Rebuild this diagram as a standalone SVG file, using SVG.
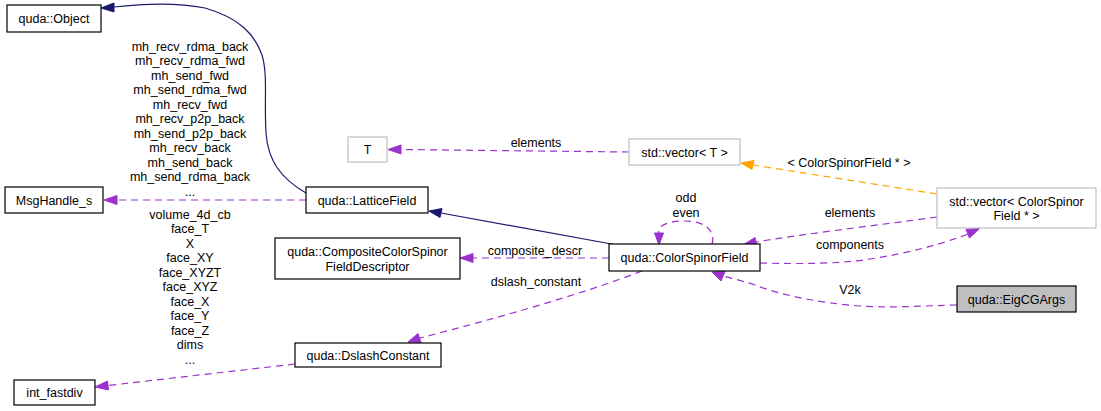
<svg xmlns="http://www.w3.org/2000/svg" width="1101" height="411" viewBox="0 0 1101 411">
<style>
text{font-family:"Liberation Sans",Arial,sans-serif;font-size:12.5px;fill:#000;text-anchor:middle}
.n{fill:#fff;stroke:#000;stroke-width:1.2}
.g{fill:#fff;stroke:#bfbfbf;stroke-width:1.2}
.h{fill:#bfbfbf;stroke:#000;stroke-width:1.2}
.e{fill:none;stroke-width:1.2}
.p{stroke:#9a32cd;stroke-dasharray:7,5}
.b{stroke:#191970}
.o{stroke:#ffa500;stroke-dasharray:7,5}
.ap{fill:#9a32cd;stroke:#9a32cd}
.ab{fill:#191970;stroke:#191970}
.ao{fill:#ffa500;stroke:#ffa500}
</style>
<rect width="1101" height="411" fill="#fff"/>
<g id="connectors">
<path class="e b" d="M306,193 C280,178 268,160 266,133 C264,100 268,75 262,55 C255,35 240,18 205,8 C175,2 140,4 114,7"/>
<polygon class="ab" points="114,3 101,8 114,12"/>
<path class="e b" d="M617,245 L441,213"/>
<polygon class="ab" points="442,208.5 429,211 440,217.5"/>
<path class="e p" d="M306,200 L117,200"/>
<polygon class="ap" points="117,195.5 104,200 117,204.5"/>
<text x="190" y="50.5">mh_recv_rdma_back<tspan x="190" dy="14.5">mh_recv_rdma_fwd</tspan><tspan x="190" dy="14.5">mh_send_fwd</tspan><tspan x="190" dy="14.5">mh_send_rdma_fwd</tspan><tspan x="190" dy="14.5">mh_recv_fwd</tspan><tspan x="190" dy="14.5">mh_recv_p2p_back</tspan><tspan x="190" dy="14.5">mh_send_p2p_back</tspan><tspan x="190" dy="14.5">mh_recv_back</tspan><tspan x="190" dy="14.5">mh_send_back</tspan><tspan x="190" dy="14.5">mh_send_rdma_back</tspan><tspan x="190" dy="14.5">...</tspan></text>
<path class="e p" d="M629,152 L401,149.5"/>
<polygon class="ap" points="401,145 388,149.5 401,154"/>
<text x="536" y="147">elements</text>
<path class="e o" d="M937,194 L753,165"/>
<polygon class="ao" points="754,160.5 741,163 752,169.5"/>
<text x="849" y="167">&lt; ColorSpinorField * &gt;</text>
<path class="e p" d="M937,217 C880,225 810,233 756,242"/>
<polygon class="ap" points="755,237.5 743,245 757,246.5"/>
<text x="850" y="217">elements</text>
<path class="e p" d="M760,263 C800,264 840,264 870,259 C910,253 945,243 968,234"/>
<polygon class="ap" points="966,229.5 980,228 969.5,238"/>
<text x="850" y="249">components</text>
<path class="e p" d="M957,305 C920,306 890,308 860,306 C820,303 780,295 755,285 C740,280 730,278 723,276"/>
<polygon class="ap" points="725,271.5 712,272 721,281"/>
<text x="850" y="294">V2k</text>
<path class="e p" d="M712,244 C716,231 705,221 685,221 C667,221 657,226 659,233"/>
<polygon class="ap" points="654.5,233 659,245 663.5,233"/>
<text x="686" y="202">odd</text>
<text x="686" y="217">even</text>
<path class="e p" d="M609,258 L473,258"/>
<polygon class="ap" points="473,253.5 460,258 473,262.5"/>
<text x="535" y="255">composite_descr</text>
<path class="e p" d="M642,271 C580,295 490,320 420,338"/>
<polygon class="ap" points="418,333.5 408,342 421,342.5"/>
<text x="536" y="286">dslash_constant</text>
<path class="e p" d="M295,364 L108,385.5"/>
<polygon class="ap" points="107.5,381 95,387 108.5,390"/>
<text x="190" y="218.5">volume_4d_cb<tspan x="190" dy="14.5">face_T</tspan><tspan x="190" dy="14.5">X</tspan><tspan x="190" dy="14.5">face_XY</tspan><tspan x="190" dy="14.5">face_XYZT</tspan><tspan x="190" dy="14.5">face_XYZ</tspan><tspan x="190" dy="14.5">face_X</tspan><tspan x="190" dy="14.5">face_Y</tspan><tspan x="190" dy="14.5">face_Z</tspan><tspan x="190" dy="14.5">dims</tspan><tspan x="190" dy="14.5">...</tspan></text>
</g>
<g id="node-object"><rect class="n" x="7" y="5" width="94" height="27"/><text x="54" y="23">quda::Object</text></g>
<g id="node-msghandle"><rect class="n" x="5" y="187" width="98" height="26"/><text x="54" y="204.5">MsgHandle_s</text></g>
<g id="node-latticefield"><rect class="n" x="306" y="187" width="122" height="26"/><text x="367" y="204.5">quda::LatticeField</text></g>
<g id="node-T"><rect class="g" x="348" y="137" width="39" height="25"/><text x="367.5" y="154">T</text></g>
<g id="node-vectorT"><rect class="g" x="629" y="139" width="111" height="26"/><text x="684.5" y="156.5">std::vector&lt; T &gt;</text></g>
<g id="node-composite"><rect class="n" x="275" y="238" width="185" height="41"/><text x="367.5" y="256">quda::CompositeColorSpinor</text><text x="367.5" y="270.5">FieldDescriptor</text></g>
<g id="node-colorspinorfield"><rect class="n" x="609" y="244" width="151" height="27"/><text x="684.5" y="262">quda::ColorSpinorField</text></g>
<g id="node-dslash"><rect class="n" x="295" y="343" width="146" height="24"/><text x="368" y="359.5">quda::DslashConstant</text></g>
<g id="node-intfastdiv"><rect class="n" x="14" y="380" width="81" height="25"/><text x="54.5" y="397">int_fastdiv</text></g>
<g id="node-vectorCSF"><rect class="g" x="937" y="188" width="159" height="40"/><text x="1016.5" y="205.5">std::vector&lt; ColorSpinor</text><text x="1016.5" y="219.5">Field * &gt;</text></g>
<g id="node-eigcg"><rect class="h" x="957" y="286" width="119" height="26"/><text x="1016.5" y="303.5">quda::EigCGArgs</text></g>
</svg>
